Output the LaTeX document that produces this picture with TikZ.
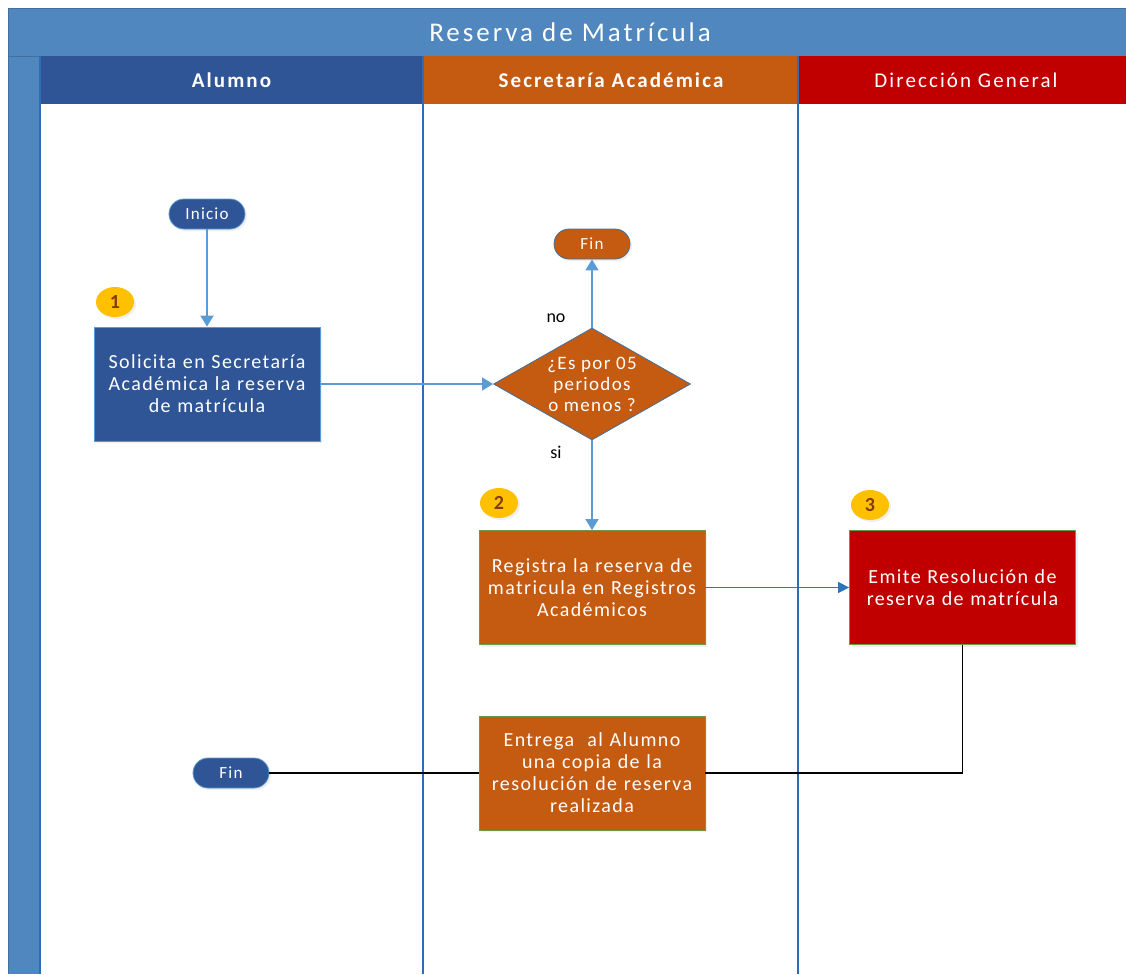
\documentclass[tikz,border=0pt]{standalone}
\usepackage{fontspec}
\setmainfont{Carlito}
\newfontfamily\titlefont{Carlito}[LetterSpace=11]
\newfontfamily\headfont{Carlito}[LetterSpace=10]
\newfontfamily\boxfont{Carlito}[LetterSpace=7]
\usetikzlibrary{shapes.geometric,arrows.meta,shadows}

\definecolor{poolblue}{HTML}{4F87BE}
\definecolor{pooledge}{HTML}{41719C}
\definecolor{laneline}{HTML}{2E6DB4}
\definecolor{darkblue}{HTML}{2F5597}
\definecolor{burnt}{HTML}{C55A11}
\definecolor{deepred}{HTML}{C00000}
\definecolor{badgefill}{HTML}{FFC000}
\definecolor{badgetext}{HTML}{843C0C}
\definecolor{flowblue}{HTML}{5B9BD5}
\definecolor{linkblue}{HTML}{2E75B6}
\definecolor{boxedge}{HTML}{6A9A45}

\tikzset{
  softshadow/.style={drop shadow={opacity=0.12,shadow xshift=2pt,shadow yshift=-2pt}},
  taskbox/.style={rectangle,draw=boxedge,line width=0.8pt,minimum width=226pt,
    minimum height=114pt,text width=222pt,align=center,text=white,inner sep=0pt,
    font=\boxfont\fontsize{20}{22}\selectfont,softshadow},
  terminal/.style={rectangle,rounded corners=15pt,draw=flowblue,line width=0.8pt,
    minimum width=76pt,minimum height=30pt,inner sep=0pt,text=white,
    font=\boxfont\fontsize{17}{19}\selectfont,softshadow},
  badge/.style={ellipse,fill=badgefill,minimum width=38pt,minimum height=30pt,
    inner sep=0pt,text=badgetext,font=\bfseries\fontsize{20}{22}\selectfont,softshadow},
  header/.style={rectangle,minimum height=48pt,inner sep=0pt,text=white,
    font=\headfont\fontsize{21}{24}\selectfont},
  flow/.style={draw=flowblue,line width=1.6pt,-{Triangle[length=11pt,width=13pt]}},
  link/.style={draw=linkblue,line width=1.4pt,-{Triangle[length=11pt,width=11pt]}},
  plain/.style={draw=black,line width=1.1pt},
  tag/.style={font=\fontsize{18}{20}\selectfont,text=black,inner sep=0pt}
}

\begin{document}
\begin{tikzpicture}[x=1pt,y=-1pt]
\useasboundingbox (0,0) rectangle (1126,974);
\fill[white] (0,0) rectangle (1126,974);

% pool: title bar and left band
\fill[poolblue] (8,8) rectangle (1126,56);
\fill[poolblue] (8,56) rectangle (40,974);
\draw[pooledge,line width=0.8pt] (1126,8) -- (8,8) -- (8,974);
\draw[pooledge,line width=0.8pt] (8,56) -- (1126,56);
\node[text=white,font=\titlefont\fontsize{27}{30}\selectfont,inner sep=0pt] (title) at (570,32) {Reserva de Matrícula};

% lane headers
\fill[darkblue] (40,56) rectangle (423,104);
\fill[burnt] (423,56) rectangle (798,104);
\fill[deepred] (798,56) rectangle (1126,104);
\node[header,font=\headfont\bfseries\fontsize{21}{24}\selectfont] (hA) at (231.5,80) {Alumno};
\node[header,font=\headfont\bfseries\fontsize{21}{24}\selectfont] (hS) at (611,80) {Secretaría Académica};
\node[header] (hD) at (966,80) {Dirección General};

% lane separators
\draw[laneline,line width=1.2pt] (40,56) -- (40,974);
\draw[laneline,line width=1.2pt] (423,56) -- (423,974);
\draw[laneline,line width=1.2pt] (798,56) -- (798,974);

% Alumno lane
\node[terminal,fill=darkblue] (inicio) at (207,214) {Inicio};
\node[badge] (b1) at (115,302) {1};
\node[taskbox,fill=darkblue,draw=flowblue] (solicita) at (207,384)
  {Solicita en Secretaría\\Académica la reserva\\de matrícula};
\node[terminal,fill=darkblue] (finA) at (231,773) {Fin};

% Secretaría lane
\node[terminal,fill=burnt,draw=pooledge] (finS) at (592,244) {Fin};
\node[diamond,fill=burnt,draw=pooledge,line width=0.8pt,minimum width=197pt,
  minimum height=112pt,inner sep=0pt,aspect=1.76,
  label={[text=white,align=center,font=\boxfont\fontsize{19}{21}\selectfont]center:{¿Es por 05\\periodos\\o menos ?}}] (decide) at (592,384) {};
\node[badge] (b2) at (499,503) {2};
\node[taskbox,fill=burnt] (registra) at (592,587.5)
  {Registra la reserva de\\matricula en Registros\\Académicos};
\node[taskbox,fill=burnt] (entrega) at (592,773)
  {Entrega\ \ al Alumno\\una copia de la\\resolución de reserva\\realizada};

% Dirección lane
\node[badge] (b3) at (870,505) {3};
\node[taskbox,fill=deepred] (emite) at (962.5,587.5)
  {Emite Resolución de\\reserva de matrícula};

% connectors
\draw[flow] (inicio.south) -- (solicita.north);
\draw[flow] (solicita.east) -- (decide.west);
\draw[flow] (decide.north) -- (finS.south);
\draw[flow] (decide.south) -- (registra.north);
\draw[link] (registra.east) -- (emite.west);
\draw[plain] (emite.south) |- (entrega.east);
\draw[plain] (entrega.west) -- (finA.east);

\node[tag] (lno) at (556,318) {no};
\node[tag] (lsi) at (556,452) {si};
\end{tikzpicture}
\end{document}
